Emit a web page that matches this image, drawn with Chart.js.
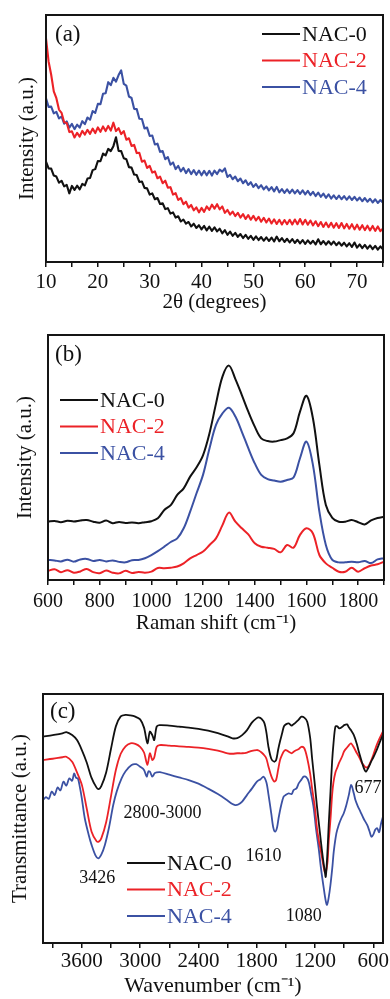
<!DOCTYPE html>
<html>
<head>
<meta charset="utf-8">
<script src="https://cdn.jsdelivr.net/npm/chart.js@4.4.1/dist/chart.umd.min.js"></script>
<style>
  html, body { margin: 0; padding: 0; background: #fff; }
  .panel { position: absolute; left: 0; width: 390px; }
  #pa { top: 0; height: 320px; }
  #pb { top: 320px; height: 320px; }
  #pc { top: 640px; height: 359px; }
</style>
</head>
<body>
<div class="panel" id="pa"><canvas id="xrd"></canvas></div>
<div class="panel" id="pb"><canvas id="raman"></canvas></div>
<div class="panel" id="pc"><canvas id="ftir"></canvas></div>
<script>
const seriesNames = ['NAC-0', 'NAC-2', 'NAC-4'];

// ---------- (a) XRD patterns ----------
const xrdTicks = [10,15,20,25,30,35,40,45,50,55,60,65,70,75];
const xrdTickLabels = [10,20,30,40,50,60,70];

const xrdTwoTheta = [10,10.5,11,11.5,12,12.5,13,13.5,14,14.5,15,15.5,16,16.5,17,17.5,18,18.5,19,19.5,
  20,20.5,21,21.5,22,22.5,23,23.5,24,24.5,25,25.5,26,26.5,27,27.5,28,28.5,29,29.5,
  30,30.5,31,31.5,32,32.5,33,33.5,34,34.5,35,35.5,36,36.5,37,37.5,38,38.5,39,39.5,
  40,40.5,41,41.5,42,42.5,43,43.5,44,44.5,45,45.5,46,46.5,47,47.5,48,48.5,49,49.5,
  50,50.5,51,51.5,52,52.5,53,53.5,54,54.5,55,55.5,56,56.5,57,57.5,58,58.5,59,59.5,
  60,60.5,61,61.5,62,62.5,63,63.5,64,64.5,65,65.5,66,66.5,67,67.5,68,68.5,69,69.5,
  70,70.5,71,71.5,72,72.5,73,73.5,74,74.5,75];

const xrdNAC0 = [40.6,37.9,37.8,35.0,34.6,32.1,32.9,30.6,31.2,27.8,30.8,29.2,30.9,29.4,31.6,31.0,33.8,34.0,37.2,37.6,
  40.9,40.8,43.9,43.2,45.8,44.9,46.9,50.5,45.0,44.9,42.0,41.6,38.4,38.2,35.4,35.2,32.4,32.6,30.0,29.8,
  27.3,27.8,25.4,25.9,23.5,23.8,21.4,21.8,19.6,20.1,18.0,18.5,16.4,17.2,15.5,16.2,14.4,15.5,13.8,14.9,
  13.2,14.6,12.8,14.3,12.6,14.0,12.4,13.5,11.6,12.9,11.0,12.3,10.6,11.8,10.2,11.3,9.7,11.0,9.4,10.6,
  9.0,10.4,8.9,10.1,8.6,10.0,8.5,9.9,8.3,10.3,8.4,9.7,8.1,9.4,7.9,9.3,7.7,9.0,7.5,8.9,
  7.3,8.8,7.4,8.6,7.1,9.2,7.2,8.5,7.0,8.4,7.0,8.3,6.8,8.0,6.6,7.8,6.3,7.6,6.1,7.9,
  5.8,7.1,5.6,6.9,5.4,6.7,5.2,6.5,5.0,6.3,5.2];

const xrdNAC2 = [90.5,81.2,75.8,69.1,66.3,61.7,60.4,56.6,56.3,52.6,52.9,50.4,52.3,50.8,53.1,51.6,53.5,51.9,54.0,52.2,
  54.5,52.7,54.9,53.0,55.1,53.2,56.4,53.0,54.2,51.8,53.0,49.5,50.1,47.0,47.4,44.1,44.2,40.6,41.1,38.1,
  38.9,36.2,36.7,33.9,34.6,31.9,32.9,30.1,30.3,27.3,27.9,25.1,25.9,23.4,24.4,22.0,23.1,20.9,22.1,20.1,
  21.9,20.3,22.5,21.1,23.2,21.6,23.4,21.3,22.5,19.9,21.1,19.2,20.4,18.6,19.9,18.0,19.4,17.4,19.0,17.1,
  18.7,16.8,18.3,16.3,17.9,16.0,17.6,15.6,17.3,15.4,17.1,15.2,17.0,15.3,17.1,15.2,17.2,15.3,17.4,15.2,
  17.1,15.1,16.8,14.8,16.5,14.5,16.2,14.2,16.0,14.1,15.9,13.9,15.7,13.8,15.8,13.6,15.4,13.5,15.3,13.2,
  15.1,13.1,14.9,12.9,14.7,12.8,14.6,12.6,14.4,12.5,13.6];

const xrdNAC4 = [66.3,62.8,62.9,60.2,60.8,58.1,58.9,56.0,56.9,54.4,55.9,53.8,55.6,54.4,57.0,55.8,58.5,57.6,61.1,60.4,
  64.0,63.9,68.1,68.3,72.8,71.6,74.6,73.0,75.7,77.6,72.1,71.4,67.0,66.4,62.0,61.9,58.0,57.9,54.1,54.4,
  51.0,51.2,47.6,47.9,44.6,44.9,41.6,42.5,39.4,40.3,37.6,38.9,36.7,38.1,36.0,37.6,35.6,37.2,35.3,37.0,
  35.1,36.9,35.1,36.9,35.0,37.0,35.6,37.4,36.6,37.9,34.4,35.3,33.5,34.6,32.7,33.8,31.9,33.1,31.2,32.3,
  30.4,31.6,29.9,31.1,29.4,30.6,29.0,30.3,28.6,30.4,28.2,29.5,28.0,29.4,27.9,29.3,27.8,29.1,27.6,29.0,
  27.4,28.8,27.1,28.4,26.7,28.1,26.4,27.7,26.0,27.4,25.7,27.0,25.5,26.9,25.4,26.7,25.2,26.6,25.1,26.4,
  24.9,26.1,24.6,25.9,24.4,25.6,24.1,25.4,23.9,25.1,24.0];

// ---------- (b) Raman spectra ----------
const ramanTicks = [600,700,800,900,1000,1100,1200,1300,1400,1500,1600,1700,1800,1900];
const ramanTickLabels = [600,800,1000,1200,1400,1600,1800];

const ramanShift = [600,625,650,675,700,725,750,775,800,825,850,875,900,925,950,975,
  1000,1025,1050,1075,1100,1125,1150,1175,1200,1225,1250,1275,1300,1325,1350,1375,
  1400,1425,1450,1475,1500,1525,1550,1575,1600,1625,1650,1675,1700,1725,1750,1775,
  1800,1825,1850,1875,1900];

const ramanNAC0 = [23.8,24.1,23.6,24.2,23.9,24.3,24.5,23.8,23.4,24.3,23.2,23.7,23.3,23.5,23.2,23.6,
  24.0,25.2,28.6,30.6,34.7,37.4,42.2,46.0,51.0,60.0,72.0,83.0,87.5,82.0,75.5,68.7,
  62.6,57.8,56.7,56.5,57.1,57.8,59.9,68.7,75.2,66.0,47.0,30.6,25.4,23.8,23.8,24.5,
  23.6,22.7,24.3,25.3,25.8];

const ramanNAC2 = [3.7,4.4,3.2,4.0,3.0,3.5,4.5,3.2,2.8,3.9,3.0,2.7,3.8,2.9,3.3,3.0,
  3.4,4.9,4.8,5.0,5.5,6.8,8.8,10.2,11.6,14.3,17.0,22.4,27.5,23.8,21.1,18.6,
  15.0,13.6,13.2,12.7,11.3,14.3,13.2,18.4,21.1,19.0,10.2,6.8,5.0,3.4,3.4,5.0,
  3.4,4.8,5.9,6.4,7.5];

const ramanNAC4 = [8.2,8.0,7.6,8.3,7.5,8.4,8.6,7.8,8.2,7.6,8.0,7.4,7.2,8.1,8.2,8.9,
  10.2,11.8,13.6,15.5,17.0,21.1,27.9,35.5,43.0,53.8,63.3,68.0,70.3,66.7,60.5,53.8,
  47.6,42.9,41.2,40.6,40.1,40.8,41.8,49.7,56.5,47.0,27.9,14.3,8.2,7.2,7.2,7.5,
  7.2,7.8,6.9,8.4,8.9];

// ---------- (c) FTIR spectra ----------
const ftirTicks = [600,900,1200,1500,1800,2100,2400,2700,3000,3300,3600,3900];
const ftirTickLabels = [600,1200,1800,2400,3000,3600];

const ftirWavenumberA = [4000,3900,3800,3760,3700,3650,3600,3550,3500,3450,3426,3400,3350,3300,3250,3200,3150,3100,3050,3000,
  2960,2925,2900,2875,2855,2830,2800,2700,2600,2500,2400,2300,2200,2100,2050,2000,1950,1900,1850,1800,
  1780,1750,1720,1700,1680,1650,1620,1600,1580,1560,1540,1520,1500,1470,1440,1420,1400,1370,1340,1310,
  1280,1250,1230,1200,1180,1160,1140,1120,1100,1090,1080,1070,1059,1040,1024,1010,990,970,950,920,
  900,870,850,830,800,770,750,720,700,677,650,620,600,570,540,500];

const ftirNAC0 = [82.9,83.5,84.2,84.7,83.5,81.5,77.5,72.5,66.3,62.5,61.8,63.0,68.5,78.0,87.0,91.0,91.6,91.4,90.9,89.8,
  86.5,80.2,84.9,83.5,81.5,86.9,87.5,87.3,86.9,86.5,86.0,85.3,84.3,83.0,82.2,82.3,83.5,85.5,88.5,90.3,
  90.6,90.0,88.2,84.5,79.0,74.0,72.8,73.5,77.5,81.0,84.0,87.0,87.8,88.2,87.3,87.9,88.5,89.6,90.9,90.5,
  88.9,82.5,74.2,63.0,55.0,48.0,41.0,34.5,29.0,26.5,31.0,38.0,47.4,61.0,72.8,80.0,86.9,87.0,86.2,86.8,
  87.5,87.8,86.5,85.5,83.5,80.0,77.0,73.0,70.5,68.8,70.5,73.0,74.5,77.0,80.0,83.8];

const ftirNAC2 = [73.5,74.0,74.6,74.8,72.8,68.5,63.5,54.0,44.7,41.0,40.7,42.0,48.5,59.0,69.5,76.0,79.0,80.2,80.0,78.8,
  76.5,71.5,76.2,73.5,74.5,78.8,79.5,79.3,79.0,78.8,78.5,78.0,77.3,76.2,76.0,76.2,76.2,76.5,77.2,77.5,
  77.3,76.5,75.3,74.0,71.0,67.0,64.8,65.5,69.5,73.5,75.5,77.0,77.5,76.8,76.2,76.8,77.3,77.8,78.8,78.2,
  74.2,68.0,62.1,54.0,46.1,41.0,37.0,32.5,28.5,28.2,30.0,33.0,40.7,50.0,59.4,64.5,68.5,70.5,72.5,75.0,
  77.0,78.5,79.5,80.2,78.5,76.3,75.0,72.5,71.5,70.5,71.0,73.5,75.5,79.0,81.8,85.0];

const ftirWavenumberB = [4000,3970,3940,3910,3880,3850,3820,3790,3760,3730,3700,3680,3660,3640,3620,3600,3570,3530,3500,3460,
  3432,3400,3363,3320,3277,3240,3191,3150,3088,3040,3000,2960,2933,2915,2899,2875,2850,2830,2796,2700,
  2600,2500,2400,2300,2200,2107,2050,2022,1990,1950,1901,1850,1798,1760,1730,1700,1678,1650,1630,1610,
  1590,1575,1550,1523,1500,1471,1440,1420,1390,1368,1340,1317,1290,1265,1240,1213,1190,1162,1140,1110,
  1090,1076,1060,1041,1020,1007,980,956,930,904,880,852,828,800,784,760,732,700,663,640,
  620,600,580,560,540,520,500];

const ftirNAC4 = [57.4,58.6,57.9,60.8,59.4,62.5,61.3,64.8,63.2,66.1,65.2,68.1,66.4,66.0,62.5,58.0,50.1,43.5,39.4,35.2,
  34.0,35.5,39.4,46.5,55.4,61.0,66.1,69.0,71.5,71.8,70.8,69.5,66.8,68.9,68.8,66.8,68.2,68.5,68.6,67.6,
  66.5,65.4,64.0,62.0,59.8,57.4,55.8,55.4,55.6,56.8,59.4,62.0,64.8,65.8,66.8,64.5,59.4,52.0,46.5,44.7,
  46.5,50.1,55.0,58.8,59.5,60.1,59.8,61.4,62.1,64.1,65.6,66.8,66.6,64.8,60.0,54.1,46.0,38.0,30.5,22.0,
  17.0,15.3,18.0,23.3,31.0,36.7,44.0,47.4,50.0,52.1,55.0,59.4,63.5,60.0,57.4,55.0,52.7,50.0,47.4,45.0,
  42.7,43.5,45.5,46.1,44.5,48.0,50.7];

// band assignments written on the FTIR panel
const ftirBandText = ['3426', '2800-3000', '1610', '1080', '677'];
const ftirBandAnchor = [[3441, 26.1], [2770, 52.2], [1730, 34.9], [1317, 10.8], [654, 62.2]];

// ---------- shared styling ----------
const COLORS = ['#111111', '#ec2227', '#3b51a3'];
const SERIF = '"Liberation Serif", "Times New Roman", serif';

const toPoints = (xs, ys) => xs.map((x, i) => ({ x: x, y: ys[i] }));

// frame, panel letter, in-plot legend and band notes
const panelDecor = {
  id: 'panelDecor',
  afterDraw(chart, args, o) {
    const { ctx, chartArea: a } = chart;
    ctx.save();
    ctx.strokeStyle = '#151515';
    ctx.lineWidth = 2;
    ctx.strokeRect(a.left, a.top, a.right - a.left, a.bottom - a.top);

    ctx.fillStyle = '#111';
    ctx.textAlign = 'left';
    ctx.textBaseline = 'middle';
    ctx.font = `${o.tagSize}px ${SERIF}`;
    ctx.fillText(o.tag, a.left + o.tagAt[0], a.top + o.tagAt[1]);

    const L = o.legend;
    ctx.font = `${L.size}px ${SERIF}`;
    chart.data.datasets.forEach((ds, i) => {
      const x = a.left + L.x;
      const y = a.top + L.y + i * L.step;
      ctx.strokeStyle = ds.borderColor;
      ctx.lineWidth = 2;
      ctx.beginPath();
      ctx.moveTo(x, y);
      ctx.lineTo(x + L.len, y);
      ctx.stroke();
      ctx.fillStyle = ds.borderColor;
      ctx.fillText(ds.label, x + L.len + 2, y + 1);
    });

    if (o.notes) {
      ctx.fillStyle = '#111';
      ctx.textAlign = 'center';
      ctx.font = `${o.notes.size}px ${SERIF}`;
      o.notes.text.forEach((t, i) => {
        const [wx, wy] = o.notes.at[i];
        ctx.fillText(t, chart.scales.x.getPixelForValue(wx), chart.scales.y.getPixelForValue(wy));
      });
    }
    ctx.restore();
  }
};

function makeChart(id, cfg) {
  const datasets = cfg.series.map((s, i) => ({
    label: seriesNames[i],
    data: toPoints(s.x, s.y),
    borderColor: COLORS[i],
    borderWidth: cfg.lineWidth,
    pointRadius: 0,
    tension: cfg.tension,
    borderJoinStyle: 'round',
    fill: false
  }));
  return new Chart(document.getElementById(id), {
    type: 'line',
    data: { datasets },
    plugins: [panelDecor],
    options: {
      responsive: true,
      maintainAspectRatio: false,
      devicePixelRatio: 1,
      animation: false,
      events: [],
      layout: { padding: { top: cfg.pad.top, right: cfg.pad.right, left: 0, bottom: 0 } },
      scales: {
        x: {
          type: 'linear',
          min: cfg.x.min,
          max: cfg.x.max,
          reverse: !!cfg.x.reverse,
          afterBuildTicks: s => { s.ticks = cfg.x.ticks.map(v => ({ value: v })); },
          afterFit: s => { s.height = cfg.pad.xAxis; },
          ticks: {
            autoSkip: false,
            maxRotation: 0,
            padding: cfg.x.tickPad,
            color: '#111',
            font: { family: SERIF, size: cfg.x.tickSize, lineHeight: 1.2 },
            callback: v => (cfg.x.labels.includes(v) ? String(v) : '')
          },
          grid: { display: true, drawOnChartArea: false, drawTicks: true, tickLength: 5, color: '#111', lineWidth: 1.5 },
          border: { display: false },
          title: {
            display: true,
            text: cfg.x.title,
            color: '#111',
            font: { family: SERIF, size: cfg.x.titleSize, lineHeight: 1.2 },
            padding: { top: 0, bottom: cfg.x.titlePad }
          }
        },
        y: {
          type: 'linear',
          min: 0,
          max: 100,
          afterFit: s => { s.width = cfg.pad.yAxis; },
          ticks: { display: false },
          grid: { display: false },
          border: { display: false },
          title: {
            display: true,
            text: cfg.y.title,
            color: '#111',
            font: { family: SERIF, size: 21, lineHeight: 1.2 },
            padding: { top: cfg.y.titlePad, bottom: 0 }
          }
        }
      },
      plugins: {
        legend: { display: false },
        tooltip: { enabled: false },
        panelDecor: cfg.decor
      }
    }
  });
}

makeChart('xrd', {
  series: [
    { x: xrdTwoTheta, y: xrdNAC0 },
    { x: xrdTwoTheta, y: xrdNAC2 },
    { x: xrdTwoTheta, y: xrdNAC4 }
  ],
  lineWidth: 2.1,
  tension: 0,
  pad: { top: 15, right: 7, xAxis: 58, yAxis: 46 },
  x: { min: 10, max: 75, ticks: xrdTicks, labels: xrdTickLabels, tickSize: 21, tickPad: 3, title: '2θ (degrees)', titleSize: 21, titlePad: 5 },
  y: { title: 'Intensity (a.u.)', titlePad: 15 },
  decor: {
    tag: '(a)', tagSize: 23, tagAt: [9, 20],
    legend: { x: 216, y: 19, step: 26.5, len: 38, size: 22 }
  }
});

makeChart('raman', {
  series: [
    { x: ramanShift, y: ramanNAC0 },
    { x: ramanShift, y: ramanNAC2 },
    { x: ramanShift, y: ramanNAC4 }
  ],
  lineWidth: 2,
  tension: 0.35,
  pad: { top: 15, right: 6, xAxis: 60, yAxis: 48 },
  x: { min: 600, max: 1900, ticks: ramanTicks, labels: ramanTickLabels, tickSize: 20, tickPad: 5, title: 'Raman shift (cm⁻¹)', titleSize: 21, titlePad: 4 },
  y: { title: 'Intensity (a.u.)', titlePad: 13 },
  decor: {
    tag: '(b)', tagSize: 23, tagAt: [7, 20],
    legend: { x: 12, y: 65, step: 26.5, len: 38, size: 22 }
  }
});

makeChart('ftir', {
  series: [
    { x: ftirWavenumberA, y: ftirNAC0 },
    { x: ftirWavenumberA, y: ftirNAC2 },
    { x: ftirWavenumberB, y: ftirNAC4 }
  ],
  lineWidth: 1.8,
  tension: 0.3,
  pad: { top: 54, right: 7, xAxis: 56, yAxis: 43 },
  x: { min: 500, max: 4000, reverse: true, ticks: ftirTicks, labels: ftirTickLabels, tickSize: 21, tickPad: 1, title: 'Wavenumber (cm⁻¹)', titleSize: 22, titlePad: 0 },
  y: { title: 'Transmittance (a.u.)', titlePad: 8 },
  decor: {
    tag: '(c)', tagSize: 23, tagAt: [7, 18],
    legend: { x: 84, y: 169, step: 26.5, len: 38, size: 22 },
    notes: { text: ftirBandText, at: ftirBandAnchor, size: 18 }
  }
});
</script>
</body>
</html>
